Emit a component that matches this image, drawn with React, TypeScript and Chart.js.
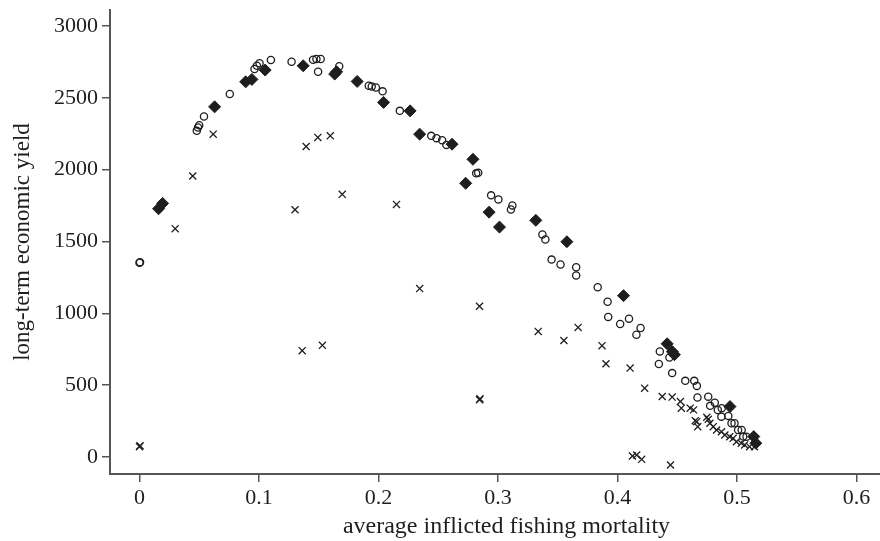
import React, { useEffect, useRef } from "react";
import { Chart, registerables } from "chart.js";

Chart.register(...registerables);

// open circles
const circleX = [0, 0.0005, 0.048, 0.049, 0.050, 0.054, 0.0756, 0.0963, 0.0983, 0.1005, 0.110, 0.1273, 0.1453, 0.1481, 0.1517, 0.1495, 0.1672,
  0.1919, 0.1944, 0.1979, 0.2035, 0.2179, 0.2442, 0.2486, 0.2533, 0.2569, 0.2818, 0.2835, 0.2943, 0.3004, 0.3121, 0.3109,
  0.3372, 0.3397, 0.3449, 0.3524, 0.3655, 0.3655, 0.3835, 0.3918, 0.3923, 0.4023, 0.4097, 0.4194, 0.4159,
  0.4355, 0.4435, 0.4347, 0.4458, 0.4568, 0.4643, 0.4665, 0.467, 0.476, 0.4776, 0.4815, 0.484, 0.4873, 0.487, 0.4928,
  0.4955, 0.498, 0.501, 0.504, 0.5053, 0.508];
const circleY = [1352, 1356, 2270, 2293, 2309, 2370, 2526, 2700, 2723, 2740, 2763, 2751, 2765, 2770, 2770, 2681, 2719,
  2584, 2579, 2572, 2545, 2409, 2235, 2219, 2205, 2172, 1974, 1979, 1821, 1793, 1751, 1723,
  1549, 1514, 1374, 1340, 1321, 1263, 1181, 1081, 975, 926, 963, 898, 851,
  735, 693, 647, 584, 530, 530, 495, 414, 420, 356, 378, 327, 340, 281, 286,
  235, 235, 188, 188, 142, 141];

// filled diamonds
const diamondX = [0.016, 0.0194, 0.0629, 0.0889, 0.0941, 0.1052, 0.137, 0.1634, 0.165, 0.1822, 0.2043, 0.2265, 0.2345,
  0.2616, 0.2791, 0.273, 0.2926, 0.3013, 0.3317, 0.3577, 0.4051, 0.4416, 0.446, 0.4477, 0.4942, 0.5141, 0.5158];
const diamondY = [1728, 1765, 2437, 2611, 2628, 2693, 2723, 2665, 2681, 2614, 2468, 2409, 2247,
  2177, 2072, 1905, 1704, 1600, 1647, 1498, 1123, 788, 733, 712, 351, 142, 96];

// crosses
const crossX = [0, 0.0005, 0.0299, 0.0446, 0.0617, 0.1302, 0.1395, 0.1493, 0.1597, 0.1697, 0.1362, 0.1531, 0.2151,
  0.2345, 0.2846, 0.2846, 0.2850, 0.3337, 0.3552, 0.3671, 0.3871, 0.3904, 0.4106, 0.4228, 0.4375, 0.4458,
  0.4527, 0.4535, 0.4609, 0.4637, 0.4651, 0.4664, 0.4672, 0.4748, 0.476, 0.4774, 0.4802, 0.483, 0.4871, 0.4899,
  0.494, 0.4968, 0.4996, 0.5037, 0.5065, 0.5106, 0.5147, 0.4126, 0.4161, 0.4203, 0.4444];
const crossY = [72, 78, 1589, 1956, 2247, 1721, 2161, 2224, 2235, 1828, 740, 777, 1758,
  1172, 1049, 398, 405, 874, 811, 902, 775, 649, 619, 479, 421, 417,
  386, 340, 340, 328, 253, 246, 211, 277, 262, 235, 211, 188, 176, 153,
  141, 130, 106, 95, 84, 72, 72, 7, 14, -16, -56];

const xTicks = [0, 0.1, 0.2, 0.3, 0.4, 0.5, 0.6];
const xTickLabels = ["0", "0.1", "0.2", "0.3", "0.4", "0.5", "0.6"];
const yTicks = [0, 500, 1000, 1500, 2000, 2500, 3000];
const yTickLabels = ["0", "500", "1000", "1500", "2000", "2500", "3000"];

const xTitle = "average inflicted fishing mortality";
const yTitle = "long-term economic yield";

const toPts = (xs: number[], ys: number[]) => xs.map((x, i) => ({ x, y: ys[i] }));

export default function App() {
  const ref = useRef<HTMLCanvasElement | null>(null);
  useEffect(() => {
    if (!ref.current) return;
    const family = "'Liberation Serif', 'Times New Roman', serif";
    const font = { family, size: 22 };
    const ink = "#1e1e1e";
    const axisColor = "#555";
    const chart = new Chart(ref.current, {
      type: "scatter",
      data: {
        datasets: [
          {
            label: "circles",
            data: toPts(circleX, circleY),
            pointStyle: "circle",
            pointRadius: 3.6,
            pointBorderWidth: 1.3,
            pointBorderColor: ink,
            pointBackgroundColor: "rgba(255,255,255,0)",
          },
          {
            label: "diamonds",
            data: toPts(diamondX, diamondY),
            pointStyle: "rectRot",
            pointRadius: 6,
            pointBorderWidth: 1,
            pointBorderColor: ink,
            pointBackgroundColor: ink,
          },
          {
            label: "crosses",
            data: toPts(crossX, crossY),
            pointStyle: "crossRot",
            pointRadius: 5,
            pointBorderWidth: 1.3,
            pointBorderColor: ink,
            pointBackgroundColor: ink,
          },
        ],
      },
      options: {
        animation: false,
        responsive: false,
        events: [],
        layout: { padding: { top: 10, right: 0, left: 0, bottom: 0 } },
        plugins: { legend: { display: false }, tooltip: { enabled: false } },
        scales: {
          x: {
            type: "linear",
            min: -0.02465,
            max: 0.639,
            afterBuildTicks: (s: any) => { s.ticks = xTicks.map((v) => ({ value: v })); },
            afterFit: (s: any) => { s.height = 67; s.paddingLeft = 0; s.paddingRight = 0; },
            ticks: {
              font,
              color: ink,
              padding: 3,
              maxRotation: 0,
              autoSkip: false,
              callback: (v: any) => { const i = xTicks.indexOf(Number(v)); return i >= 0 ? xTickLabels[i] : ""; },
            },
            grid: { display: true, drawOnChartArea: false, drawTicks: true, tickLength: 8, color: axisColor, lineWidth: 1.5 },
            border: { display: true, color: axisColor, width: 2 },
            title: { display: true, text: xTitle, font: { family, size: 24 }, color: ink, padding: { top: 0, bottom: 0 } },
          },
          y: {
            type: "linear",
            min: -118.3,
            max: 3111,
            afterBuildTicks: (s: any) => { s.ticks = yTicks.map((v) => ({ value: v })); },
            afterFit: (s: any) => { s.width = 110; s.paddingTop = 0; s.paddingBottom = 0; },
            ticks: {
              font,
              color: ink,
              padding: 4,
              autoSkip: false,
              callback: (v: any) => { const i = yTicks.indexOf(Number(v)); return i >= 0 ? yTickLabels[i] : ""; },
            },
            grid: { display: true, drawOnChartArea: false, drawTicks: true, tickLength: 8, color: axisColor, lineWidth: 1.5 },
            border: { display: true, color: axisColor, width: 2 },
            title: { display: true, text: yTitle, font: { family, size: 23 }, color: ink, padding: { top: 9, bottom: 0 } },
          },
        },
      },
    } as any);
    return () => chart.destroy();
  }, []);
  return (
    <div style={{ position: "fixed", left: 0, top: 0, width: 880, height: 541, overflow: "hidden", background: "#fff" }}>
      <canvas ref={ref} width={910} height={541} style={{ display: "block" }} />
    </div>
  );
}
